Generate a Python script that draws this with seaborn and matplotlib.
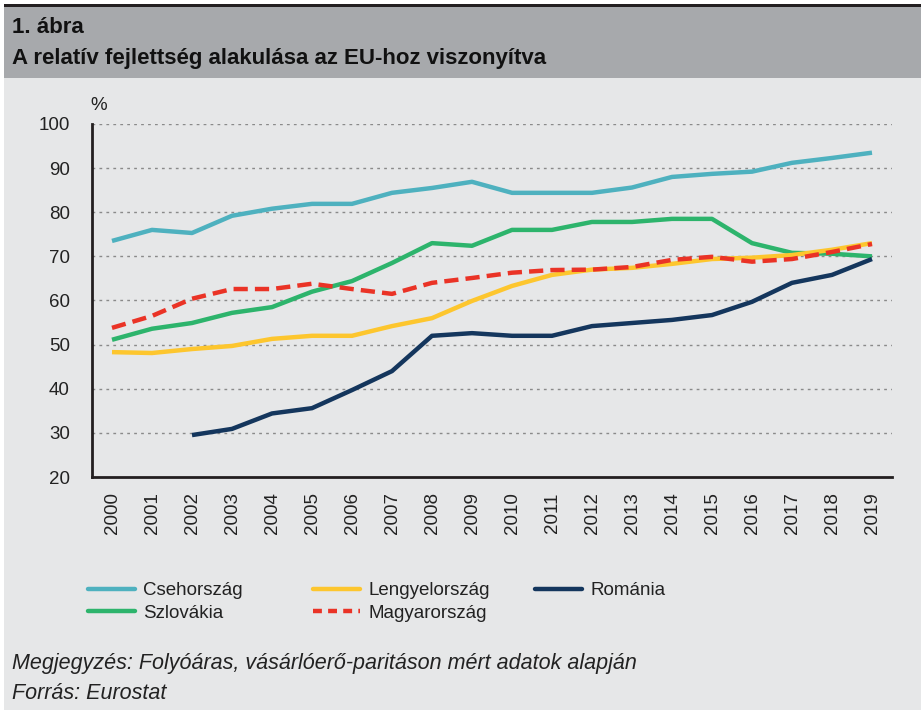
import numpy as np
import pandas as pd
import matplotlib
matplotlib.use("Agg")
import matplotlib.pyplot as plt
import seaborn as sns
from matplotlib.patches import Rectangle
from matplotlib.lines import Line2D

years = [str(y) for y in range(2000, 2020)]
cseh = [73.5, 76.0, 75.3, 79.2, 80.8, 81.9, 81.9, 84.4, 85.5, 86.9,
        84.4, 84.4, 84.4, 85.6, 88.0, 88.7, 89.2, 91.2, 92.3, 93.5]
szlovakia = [51.1, 53.6, 54.9, 57.2, 58.5, 62.0, 64.4, 68.5, 73.0, 72.4,
             76.0, 76.0, 77.8, 77.8, 78.5, 78.5, 73.0, 70.8, 70.6, 70.0]
lengyel = [48.3, 48.1, 49.0, 49.7, 51.3, 52.0, 52.0, 54.2, 56.0, 59.9,
           63.3, 65.8, 67.0, 67.4, 68.3, 69.4, 69.7, 70.3, 71.5, 73.0]
magyar = [53.8, 56.5, 60.4, 62.6, 62.6, 63.8, 62.6, 61.5, 64.0, 65.1,
          66.3, 66.9, 67.0, 67.6, 69.2, 69.9, 68.8, 69.4, 71.0, 72.8]
romania = [np.nan, np.nan, 29.5, 30.9, 34.4, 35.6, 39.7, 44.0, 52.0, 52.6,
           52.0, 52.0, 54.2, 54.9, 55.6, 56.7, 59.7, 64.0, 65.8, 69.4]

labels = ["Csehország", "Szlovákia", "Lengyelország", "Magyarország", "Románia"]
title1 = "1. ábra"
title2 = "A relatív fejlettség alakulása az EU-hoz viszonyítva"
note1 = "Megjegyzés: Folyóáras, vásárlóerő-paritáson mért adatok alapján"
note2 = "Forrás: Eurostat"

sns.set_style("white")
plt.rcParams['font.family'] = ['Liberation Sans', 'DejaVu Sans']

W, H = 921, 710
fig = plt.figure(figsize=(W / 100, H / 100), dpi=100)
bg = "#e6e7e8"
fig.patch.set_facecolor(bg)

def fx(px):
    return px / W

def fy(py):
    return 1 - py / H

# header band and top rule
fig.patches.append(Rectangle((0, fy(78)), 1, fy(7) - fy(78), transform=fig.transFigure,
                             facecolor="#a7a9ac", edgecolor="none", zorder=0))
fig.patches.append(Rectangle((0, fy(7)), 1, fy(4) - fy(7), transform=fig.transFigure,
                             facecolor="#231f20", edgecolor="none", zorder=1))
fig.patches.append(Rectangle((0, fy(4)), 1, 1 - fy(4), transform=fig.transFigure,
                             facecolor="white", edgecolor="none", zorder=1))
fig.patches.append(Rectangle((0, 0), fx(4), fy(4), transform=fig.transFigure,
                             facecolor="white", edgecolor="none", zorder=1))

fig.text(fx(12), fy(33), title1, fontsize=16, fontweight="bold",
         color="#111111", ha="left", va="baseline")
fig.text(fx(12), fy(64), title2, fontsize=16, fontweight="bold",
         color="#111111", ha="left", va="baseline")

ax = fig.add_axes([fx(92), fy(477), fx(892) - fx(92), fy(124) - fy(477)])
ax.set_facecolor(bg)

x = np.arange(len(years))
series = [
    (cseh, "#4eb1bf", "-"),
    (szlovakia, "#2db46c", "-"),
    (lengyel, "#fdc62e", "-"),
    (magyar, "#ea3326", "--"),
    (romania, "#14365d", "-"),
]
order = [0, 1, 2, 4, 3]
for i in order:
    vals, col, ls = series[i]
    df = pd.DataFrame({"x": x, "y": vals}).dropna()
    sns.lineplot(data=df, x="x", y="y", ax=ax, color=col, linewidth=3.2,
                 linestyle=ls, solid_capstyle="butt", dash_capstyle="butt",
                 zorder=3 + (1 if ls == "--" else 0))
for line in ax.lines:
    if line.get_linestyle() == "--":
        line.set_dashes([3.2, 1.6])

ax.set_xlim(-0.5, len(years) - 0.5)
ax.set_ylim(20, 100)
ax.set_yticks(np.arange(20, 101, 10))
ax.set_yticklabels([str(v) for v in range(20, 101, 10)], fontsize=13.5, color="#222222")
ax.set_xticks(x)
ax.set_xticklabels(years, rotation=90, fontsize=13.5, color="#222222")
ax.set_xticks(np.arange(-0.5, len(years), 1), minor=True)
ax.tick_params(axis="x", which="major", length=0, pad=11)
ax.tick_params(axis="x", which="minor", length=6, width=2, color="#231f20", direction="out")
ax.tick_params(axis="y", length=6, width=2, color="#231f20", direction="out", pad=10)
ax.set_xlabel("")
ax.set_ylabel("")
for s in ["top", "right"]:
    ax.spines[s].set_visible(False)
for s in ["left", "bottom"]:
    ax.spines[s].set_color("#231f20")
    ax.spines[s].set_linewidth(2)
for v in range(30, 101, 10):
    ax.axhline(v, color="#8a8a8a", linewidth=1, linestyle=(0, (2, 3)), zorder=1)

fig.text(fx(90), fy(110), "%", fontsize=13.5, color="#222222", ha="left", va="baseline")

handles = []
for i in range(5):
    vals, col, ls = series[i]
    h = Line2D([], [], color=col, linewidth=3.2, linestyle=ls)
    if ls == "--":
        h.set_dashes([2.0, 1.4])
    handles.append(h)

col_groups = [([0, 1], 88), ([2, 3], 313), ([4], 535)]
for idxs, xpos in col_groups:
    leg = fig.legend([handles[i] for i in idxs], [labels[i] for i in idxs],
                     loc="upper left", bbox_to_anchor=(fx(xpos), fy(582)),
                     frameon=False, prop={"size": 13.5}, handlelength=2.5,
                     handletextpad=0.45, labelspacing=0.3, borderpad=0,
                     borderaxespad=0)
    for t in leg.get_texts():
        t.set_color("#222222")

fig.text(fx(12), fy(669), note1, fontsize=15.5, style="italic",
         color="#222222", ha="left", va="baseline")
fig.text(fx(12), fy(699), note2, fontsize=15.5, style="italic",
         color="#222222", ha="left", va="baseline")

fig.savefig("out.png", dpi=100, facecolor=fig.get_facecolor())
